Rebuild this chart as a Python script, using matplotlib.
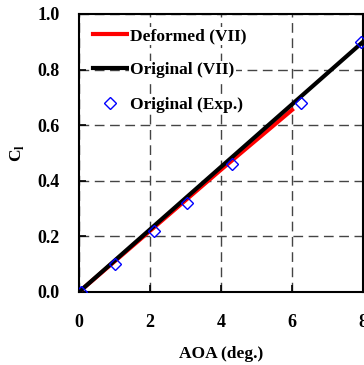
import numpy as np
import matplotlib.pyplot as plt

plt.rcParams['font.family'] = ['Liberation Serif', 'DejaVu Serif']
plt.rcParams['font.weight'] = 'bold'

# data
aoa_orig = [0.0, 2.0, 4.0, 6.0, 8.0]
cl_orig = [0.0, 0.225, 0.45, 0.675, 0.90]
aoa_def = [0.0, 2.0, 4.0, 6.0]
cl_def = [0.0, 0.22, 0.44, 0.655]
aoa_exp = [0.05, 1.0, 2.1, 3.05, 4.3, 6.25, 7.95]
cl_exp = [0.0, 0.10, 0.22, 0.32, 0.46, 0.68, 0.90]

fig = plt.figure(figsize=(3.64, 3.65), dpi=100)
ax = fig.add_axes([79/364, 73/365, 284/364, 278/365])

ax.plot(aoa_def, cl_def, color='red', lw=3, label='Deformed (VII)', zorder=3)
ax.plot(aoa_orig, cl_orig, color='black', lw=3, label='Original (VII)', zorder=4)
ax.plot(aoa_exp, cl_exp, ls='none', marker='D', ms=6.5, mfc='none', mec='blue',
        mew=1.0, label='Original (Exp.)', zorder=5)

ax.set_xlim(0, 8)
ax.set_ylim(0, 1.0)
ax.set_xticks([0, 2, 4, 6, 8])
ax.set_yticks([0.0, 0.2, 0.4, 0.6, 0.8, 1.0])
ax.set_yticklabels(['0.0', '0.2', '0.4', '0.6', '0.8', '1.0'])
ax.tick_params(direction='in', length=5, width=1.2, labelsize=13)
ax.tick_params(axis='y', pad=14)
ax.tick_params(axis='x', pad=16)
for lbl in ax.get_xticklabels() + ax.get_yticklabels():
    lbl.set_fontweight('bold')
for s in ax.spines.values():
    s.set_linewidth(1.5)

ax.grid(True, ls=(0, (7, 4)), color='#444444', lw=1.0)
ax.set_axisbelow(True)

ax.set_xlabel('AOA (deg.)', fontsize=12.5, fontweight='bold', labelpad=11)
ax.set_ylabel(r'C$_\mathregular{l}$', fontsize=12.5, fontweight='bold', labelpad=8)

leg = ax.legend(loc='upper left', frameon=False, handlelength=2.0,
                handletextpad=0.15, labelspacing=1.05, borderaxespad=0.4,
                prop={'weight': 'bold', 'size': 12.5})
for t in leg.get_texts():
    t.set_bbox(dict(facecolor='white', edgecolor='none', pad=1))

fig.savefig('out.png', dpi=100)
